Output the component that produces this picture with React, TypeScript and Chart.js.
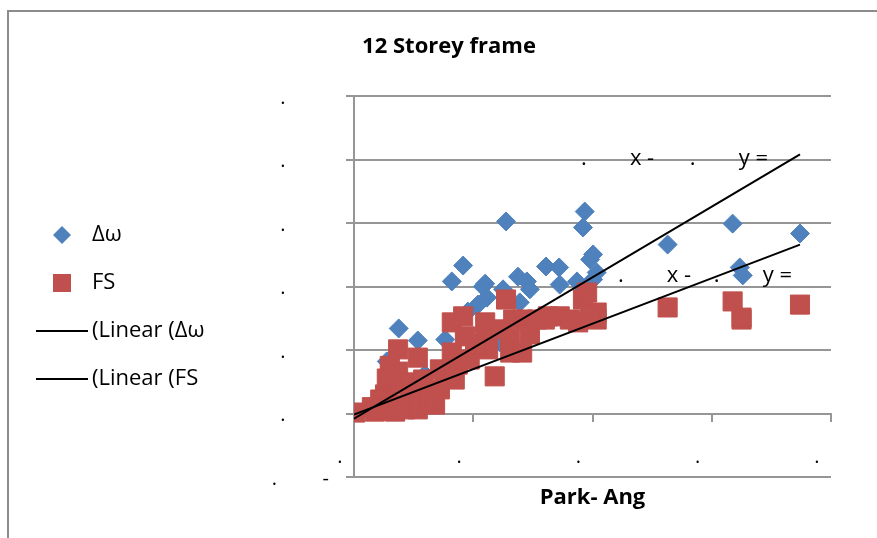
import React, { useEffect, useRef } from 'react';
import { Chart, registerables } from 'chart.js';

Chart.register(...registerables);

// ---- data ----
const chartTitle = '12 Storey frame';
const xTitle = 'Park- Ang';
const seriesLabels = ['Δω', 'FS', '(Linear (Δω', '(Linear (FS'];

const dwX = [0.075, 0.107, 0.164, 0.183, 0.220, 0.255, 0.387, 0.384, 0.401, 0.396, 0.407, 0.401, 0.322, 0.344, 0.345, 0.374, 0.275, 0.290, 0.295, 0.250, 0.223, 0.216, 0.278, 0.208, 0.191, 0.169, 0.153, 0.119, 0.055, 0.526, 0.635, 0.748, 0.647, 0.652, 0.131, 0.245, 0.060, 0.090];
const dwY = [0.268, 0.230, 0.416, 0.466, 0.409, 0.605, 0.636, 0.586, 0.501, 0.485, 0.444, 0.422, 0.463, 0.460, 0.406, 0.416, 0.431, 0.416, 0.391, 0.391, 0.365, 0.400, 0.350, 0.343, 0.321, 0.290, 0.233, 0.123, 0.164, 0.532, 0.598, 0.567, 0.460, 0.435, 0.076, 0.224, 0.050, 0.080];

const fsX = [0.002, 0.035, 0.052, 0.069, 0.085, 0.107, 0.052, 0.069, 0.074, 0.074, 0.107, 0.097, 0.116, 0.127, 0.144, 0.153, 0.164, 0.164, 0.183, 0.186, 0.174, 0.194, 0.220, 0.220, 0.225, 0.236, 0.255, 0.267, 0.283, 0.262, 0.262, 0.282, 0.307, 0.325, 0.345, 0.362, 0.384, 0.391, 0.407, 0.407, 0.376, 0.526, 0.635, 0.650, 0.650, 0.748, 0.111, 0.094, 0.044, 0.077, 0.136, 0.203, 0.144, 0.169, 0.245, 0.295, 0.320, 0.396, 0.060, 0.055, 0.030];
const fsY = [0.003, 0.006, 0.013, 0.006, 0.013, 0.013, 0.060, 0.091, 0.132, 0.202, 0.176, 0.098, 0.107, 0.060, 0.076, 0.113, 0.192, 0.287, 0.306, 0.243, 0.154, 0.170, 0.287, 0.243, 0.202, 0.117, 0.359, 0.296, 0.296, 0.243, 0.192, 0.192, 0.296, 0.306, 0.306, 0.296, 0.359, 0.381, 0.318, 0.296, 0.287, 0.334, 0.353, 0.296, 0.302, 0.343, 0.060, 0.044, 0.044, 0.028, 0.028, 0.217, 0.139, 0.107, 0.265, 0.249, 0.296, 0.312, 0.150, 0.110, 0.020];

const trendDwX = [0, 0.748];
const trendDwY = [-0.016, 0.816];
const trendFsX = [0, 0.748];
const trendFsY = [-0.003, 0.532];

const xTickLabels = ['.', '.', '.', '.', '.'];
const yTickLabel = '.';
const yMinLabel = ['.', '-'];

const eqTexts = ['.', 'x -', '.', 'y =', '.', 'x -', '.', 'y ='];
const eqAtX = [0.3806, 0.4627, 0.5633, 0.6454, 0.4426, 0.5247, 0.6035, 0.6857];
const eqAtY = [0.784, 0.784, 0.784, 0.784, 0.413, 0.413, 0.413, 0.413];

// ---- styling ----
const FONT = '"Open Sans", "DejaVu Sans", sans-serif';
const BLUE = '#4F81BD';
const RED = '#C0504D';
const GRID = '#969696';
const NB = '\u00A0';
const HS = '\u200A';

function makeIcon(kind: string): HTMLCanvasElement {
  const c = document.createElement('canvas');
  const ctx = c.getContext('2d') as CanvasRenderingContext2D;
  if (kind === 'diamond') {
    c.width = 20; c.height = 20;
    ctx.fillStyle = BLUE;
    ctx.beginPath();
    ctx.moveTo(10, 1); ctx.lineTo(19, 10); ctx.lineTo(10, 19); ctx.lineTo(1, 10);
    ctx.closePath(); ctx.fill();
  } else if (kind === 'square') {
    c.width = 18; c.height = 18;
    ctx.fillStyle = RED;
    ctx.fillRect(0, 0, 18, 18);
  } else {
    c.width = 52; c.height = 4;
    ctx.fillStyle = '#000';
    ctx.fillRect(0, 1, 52, 2);
  }
  return c;
}

export default function App() {
  const ref = useRef<HTMLCanvasElement | null>(null);

  useEffect(() => {
    if (!ref.current) return;
    const icons = [makeIcon('diamond'), makeIcon('square'), makeIcon('line'), makeIcon('line')];

    const meas = document.createElement('canvas').getContext('2d') as CanvasRenderingContext2D;
    meas.font = '20px ' + FONT;
    const sp = meas.measureText(NB).width || 5;
    const hs = meas.measureText(HS).width;
    const dotW = meas.measureText('.').width;
    const hyW = meas.measureText('-').width;
    const gap = (px: number) => {
      const k = Math.max(0, Math.floor(px / sp));
      let s = NB.repeat(k);
      const rem = px - k * sp;
      if (hs > 0.4) s += HS.repeat(Math.max(0, Math.round(rem / hs)));
      return s;
    };
    const R = 320;
    const normalGap = gap(R - 274 - dotW / 2);
    const minGap = gap(R - hyW - 265 - dotW / 2);

    const eqPlugin = {
      id: 'eqText',
      afterDatasetsDraw(chart: any) {
        const { ctx } = chart;
        const xs = chart.scales.x;
        const ys = chart.scales.y;
        ctx.save();
        ctx.font = '22px ' + FONT;
        ctx.fillStyle = '#000';
        ctx.textAlign = 'left';
        ctx.textBaseline = 'alphabetic';
        eqTexts.forEach((t, i) => {
          ctx.fillText(t, xs.getPixelForValue(eqAtX[i]), ys.getPixelForValue(eqAtY[i]));
        });
        ctx.restore();
      },
    };

    const chart = new Chart(ref.current, {
      type: 'scatter',
      data: {
        datasets: [
          {
            label: seriesLabels[0],
            data: dwX.map((x, i) => ({ x, y: dwY[i] })),
            pointStyle: 'rectRot',
            pointRadius: 9.5,
            pointBackgroundColor: BLUE,
            pointBorderColor: BLUE,
            pointBorderWidth: 1,
            showLine: false,
            order: 2,
          },
          {
            label: seriesLabels[1],
            data: fsX.map((x, i) => ({ x, y: fsY[i] })),
            pointStyle: 'rect',
            pointRadius: 13.5,
            pointBackgroundColor: RED,
            pointBorderColor: RED,
            pointBorderWidth: 1,
            showLine: false,
            order: 1,
          },
          {
            label: seriesLabels[2],
            data: trendDwX.map((x, i) => ({ x, y: trendDwY[i] })),
            showLine: true,
            borderColor: '#000',
            borderWidth: 2,
            pointRadius: 0,
            order: 0,
          },
          {
            label: seriesLabels[3],
            data: trendFsX.map((x, i) => ({ x, y: trendFsY[i] })),
            showLine: true,
            borderColor: '#000',
            borderWidth: 2,
            pointRadius: 0,
            order: 0,
          },
        ] as any,
      },
      options: {
        responsive: false,
        animation: false,
        events: [],
        font: { family: FONT },
        layout: { padding: { left: 8, right: 10, top: 0, bottom: 0 } },
        plugins: {
          tooltip: { enabled: false },
          title: {
            display: true,
            text: chartTitle,
            color: '#000',
            font: { family: FONT, size: 22, weight: 'bold', lineHeight: 1.2 },
            padding: { top: 21.8, bottom: 35.8 },
          },
          legend: {
            display: true,
            position: 'left',
            align: 'start',
            maxWidth: 300,
            title: {
              display: true,
              text: ' ',
              font: { size: 10, lineHeight: 1 },
              padding: { top: 176, bottom: 0 },
            },
            labels: {
              usePointStyle: true,
              pointStyleWidth: 38,
              padding: 26,
              color: '#000',
              font: { family: FONT, size: 22 },
              generateLabels: () =>
                seriesLabels.map((t, i) => ({
                  text: t,
                  pointStyle: icons[i],
                  fillStyle: '#000',
                  strokeStyle: '#000',
                  lineWidth: 0,
                  hidden: false,
                  datasetIndex: i,
                  fontColor: '#000',
                })) as any,
            },
          },
        },
        scales: {
          x: {
            type: 'linear',
            position: 'bottom',
            min: 0,
            max: 0.8,
            grid: { display: false, drawTicks: false },
            border: { display: false },
            ticks: { display: false, stepSize: 0.2 },
            title: {
              display: true,
              text: xTitle,
              color: '#000',
              font: { family: FONT, size: 22, weight: 'bold', lineHeight: 1.2 },
              padding: { top: 0, bottom: 30.8 },
            },
            afterFit: (s: any) => { s.height = 65; },
          },
          x2: {
            type: 'linear',
            axis: 'x',
            position: { y: 0 } as any,
            min: 0,
            max: 0.8,
            ticks: {
              display: true,
              stepSize: 0.2,
              autoSkip: false,
              maxRotation: 0,
              labelOffset: -14,
              padding: 25,
              color: '#000',
              font: { family: FONT, size: 20 },
              callback: (_v: any, i: number) => xTickLabels[i] ?? '.',
            },
            grid: { drawOnChartArea: false, color: GRID, lineWidth: 2, tickLength: 7 },
            border: { color: GRID, width: 2 },
          },
          y: {
            type: 'linear',
            position: 'left',
            min: -0.2,
            max: 1.0,
            grid: { color: GRID, lineWidth: 2, tickLength: 8 },
            border: { color: GRID, width: 2 },
            ticks: {
              stepSize: 0.2,
              padding: 17,
              labelOffset: 2,
              color: '#000',
              font: { family: FONT, size: 20 },
              callback: (v: any) =>
                Number(v) < -0.1
                  ? yMinLabel[0] + minGap + yMinLabel[1]
                  : yTickLabel + normalGap,
            },
            afterFit: (s: any) => {
              const lw = s.chart.legend ? s.chart.legend.width : 0;
              s.width = 345 - 8 - lw;
            },
          },
          yR: {
            type: 'linear',
            axis: 'y',
            position: 'right',
            display: true,
            grid: { display: false, drawTicks: false },
            border: { display: false },
            ticks: { display: false },
            afterFit: (s: any) => { s.width = 50; },
          },
        } as any,
      },
      plugins: [eqPlugin],
    } as any);

    return () => chart.destroy();
  }, []);

  return (
    <div style={{ position: 'fixed', left: 0, top: 0, width: 877, height: 538, overflow: 'hidden', background: '#fff' }}>
      <div
        style={{
          position: 'absolute',
          left: 7,
          top: 10,
          width: 884,
          height: 540,
          borderLeft: '2px solid #8c8c8c',
          borderTop: '2px solid #8c8c8c',
        }}
      >
        <canvas ref={ref} width={882} height={530} style={{ display: 'block' }} />
      </div>
    </div>
  );
}
